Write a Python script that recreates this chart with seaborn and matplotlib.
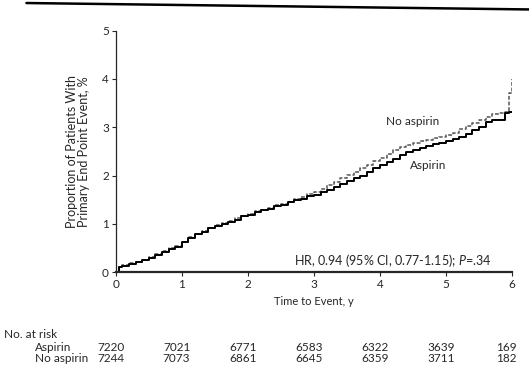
import matplotlib
matplotlib.use("Agg")
import matplotlib.pyplot as plt
import matplotlib.lines as mlines
import matplotlib.transforms as mtransforms
import pandas as pd
import seaborn as sns

# Cumulative event curves (years, %)
years = [0, 0.05, 0.1, 0.2, 0.3, 0.4, 0.5, 0.6, 0.7, 0.8, 0.9,
         1.0, 1.1, 1.2, 1.3, 1.4, 1.5, 1.6, 1.7, 1.8, 1.9,
         2.0, 2.1, 2.2, 2.3, 2.4, 2.5, 2.6, 2.7, 2.8, 2.9,
         3.0, 3.1, 3.2, 3.3, 3.4, 3.5, 3.6, 3.7, 3.8, 3.9,
         4.0, 4.1, 4.2, 4.3, 4.4, 4.5, 4.6, 4.7, 4.8, 4.9,
         5.0, 5.1, 5.2, 5.3, 5.4, 5.5, 5.6, 5.7, 5.8, 5.9, 5.95, 6.0]
aspirin = [0, 0.10, 0.13, 0.17, 0.21, 0.25, 0.30, 0.35, 0.41, 0.47, 0.53,
           0.62, 0.70, 0.79, 0.84, 0.91, 0.95, 0.99, 1.04, 1.09, 1.16,
           1.19, 1.24, 1.28, 1.31, 1.36, 1.40, 1.45, 1.49, 1.52, 1.57,
           1.60, 1.66, 1.71, 1.76, 1.82, 1.88, 1.95, 2.00, 2.08, 2.15,
           2.22, 2.28, 2.35, 2.43, 2.49, 2.53, 2.58, 2.62, 2.65, 2.68,
           2.71, 2.75, 2.79, 2.86, 2.95, 3.01, 3.10, 3.14, 3.16, 3.30, 3.31, 3.31]
no_aspirin = [0, 0.10, 0.14, 0.18, 0.22, 0.26, 0.31, 0.37, 0.43, 0.49, 0.55,
              0.63, 0.72, 0.80, 0.86, 0.92, 0.97, 1.01, 1.06, 1.12, 1.17,
              1.21, 1.26, 1.29, 1.33, 1.38, 1.42, 1.46, 1.51, 1.56, 1.61,
              1.66, 1.73, 1.80, 1.87, 1.94, 2.01, 2.08, 2.15, 2.22, 2.30,
              2.37, 2.44, 2.52, 2.59, 2.64, 2.68, 2.71, 2.74, 2.77, 2.80,
              2.83, 2.88, 2.96, 3.02, 3.08, 3.15, 3.22, 3.28, 3.30, 3.32, 3.70, 4.00]

# Numbers at risk
risk_years = [0, 1, 2, 3, 4, 5, 6]
risk_aspirin = [7220, 7021, 6771, 6583, 6322, 3639, 169]
risk_no_aspirin = [7244, 7073, 6861, 6645, 6359, 3711, 182]

sns.set_style("ticks")
plt.rcParams["font.family"] = ["Lato", "DejaVu Sans"]
plt.rcParams["mathtext.fontset"] = "custom"
plt.rcParams["mathtext.it"] = "Lato:italic"

df = pd.DataFrame({"years": years, "aspirin": aspirin, "no_aspirin": no_aspirin})

fig = plt.figure(figsize=(5.29, 3.78), dpi=100)
ax = fig.add_axes([0.219, 0.280, 0.749, 0.639])

sns.lineplot(data=df, x="years", y="no_aspirin", ax=ax, color="#555555",
             linewidth=1.1, linestyle=(0, (2.5, 1.2)), drawstyle="steps-post")
sns.lineplot(data=df, x="years", y="aspirin", ax=ax, color="black",
             linewidth=1.4, drawstyle="steps-post")

ax.set_xlim(0, 6)
ax.set_ylim(0, 5)
ax.set_xticks(range(0, 7))
ax.set_yticks(range(0, 6))
ax.tick_params(labelsize=8.5, length=3, width=0.8, pad=2)
ax.spines["left"].set_linewidth(0.9)
ax.spines["bottom"].set_linewidth(1.6)
sns.despine(ax=ax)

ax.set_xlabel("Time to Event, y", fontsize=8, labelpad=4)
ax.set_ylabel("Proportion of Patients With\nPrimary End Point Event, %",
              fontsize=9, labelpad=9, linespacing=1.0)

ax.text(4.5, 3.12, "No aspirin", fontsize=8.5, ha="center", va="center")
ax.text(4.73, 2.2, "Aspirin", fontsize=8.5, ha="center", va="center")
ax.text(5.69, 0.25, "HR, 0.94 (95% CI, 0.77-1.15); $\\it{P}$=.34",
        fontsize=9, ha="right", va="center")

# Table of numbers at risk
row_trans = mtransforms.blended_transform_factory(ax.transData, fig.transFigure)
fig.text(0.008, 0.114, "No. at risk", fontsize=8.5, va="center")
fig.text(0.066, 0.082, "Aspirin", fontsize=8.5, va="center")
fig.text(0.066, 0.052, "No aspirin", fontsize=8.5, va="center")
for x, a, n in zip(risk_years, risk_aspirin, risk_no_aspirin):
    ax.text(x - 0.08, 0.082, str(a), transform=row_trans, fontsize=8.5, ha="center", va="center")
    ax.text(x - 0.08, 0.052, str(n), transform=row_trans, fontsize=8.5, ha="center", va="center")

# header rule at top of the page
fig.add_artist(mlines.Line2D([0.05, 1.0], [0.992, 0.975], color="black", linewidth=1.8))

fig.savefig("out.png", dpi=100)
